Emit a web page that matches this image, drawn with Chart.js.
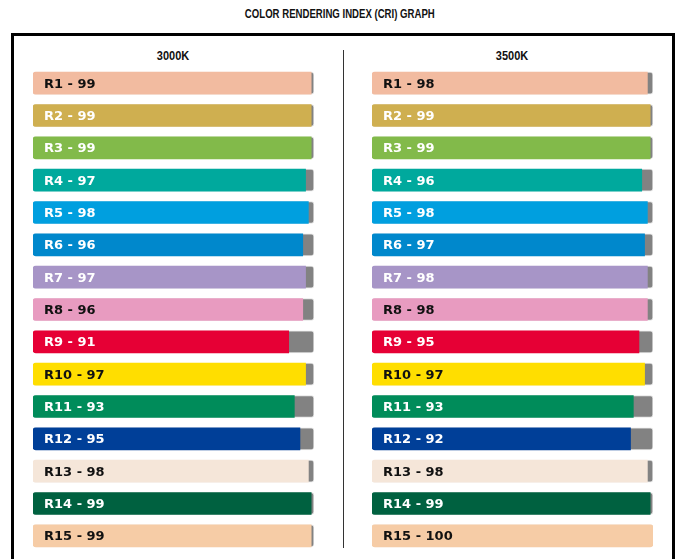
<!DOCTYPE html>
<html>
<head>
<meta charset="utf-8">
<script src="https://cdn.jsdelivr.net/npm/chart.js@4/dist/chart.umd.min.js"></script>
<style>
  html, body { margin: 0; padding: 0; background: #fff; }
  body { width: 679px; height: 559px; position: relative; overflow: hidden; }
  #title { position: absolute; left: 0; width: 679px; top: 7px; text-align: center;
    font-family: "Liberation Sans", Arial, sans-serif; font-weight: bold;
    font-size: 12px; color: #111; transform: scaleX(0.8); transform-origin: 341px 0; }
  #box { position: absolute; left: 11px; top: 33px; width: 658px; height: 560px;
    border: 3px solid #000; box-sizing: content-box; }
  #divider { position: absolute; left: 343px; top: 50px; width: 1px; height: 498px; background: #333; }
  .hdr { position: absolute; top: 49px; width: 120px; text-align: center;
    font-family: "Liberation Sans", Arial, sans-serif; font-weight: bold;
    font-size: 12.5px; color: #111; transform: scaleX(0.88); }
  canvas { position: absolute; }
</style>
</head>
<body>
<div id="title">COLOR RENDERING INDEX (CRI) GRAPH</div>
<div id="box"></div>
<div id="divider"></div>
<div class="hdr" style="left:113px">3000K</div>
<div class="hdr" style="left:452px">3500K</div>
<canvas id="c1" style="left:32px; top:67px; width:283px; height:485px;"></canvas>
<canvas id="c2" style="left:371px; top:67px; width:283px; height:485px;"></canvas>
<script>
const categories = ["R1","R2","R3","R4","R5","R6","R7","R8","R9","R10","R11","R12","R13","R14","R15"];
const values3000 = [99,99,99,97,98,96,97,96,91,97,93,95,98,99,99];
const values3500 = [98,99,99,96,98,97,98,98,95,97,93,92,98,99,100];
const scaleMax = 100;
const barColors = ["#F2BBA0","#CFAF50","#82BA4A","#00A99D","#009FDF","#0088CC","#A795C7","#E89BC0",
                   "#E60035","#FFDE00","#008C5A","#003F98","#F5E6D9","#006140","#F6CCA6"];
const labelColors = ["#111","#fff","#fff","#fff","#fff","#fff","#fff","#111",
                     "#fff","#111","#fff","#fff","#111","#fff","#111"];

const labelPlugin = {
  id: 'barLabels',
  afterDatasetsDraw(chart) {
    const ctx = chart.ctx;
    const meta = chart.getDatasetMeta(0);
    const vals = chart.data.datasets[0].data;
    ctx.save();
    ctx.font = 'bold 13px "DejaVu Sans", Verdana, sans-serif';
    ctx.textBaseline = 'middle';
    ctx.textAlign = 'left';
    meta.data.forEach((bar, i) => {
      ctx.fillStyle = labelColors[i];
      ctx.fillText(categories[i] + ' - ' + vals[i], bar.base + 11, bar.y + 1);
    });
    ctx.restore();
  }
};

function makeChart(id, values) {
  const c = document.getElementById(id);
  c.width = 283; c.height = 485;
  new Chart(c, {
    type: 'bar',
    data: {
      labels: categories,
      datasets: [
        {
          data: values,
          backgroundColor: barColors,
          borderWidth: 0,
          borderRadius: values.map(v => v >= scaleMax ? 3 : {topLeft: 3, bottomLeft: 3, topRight: 0, bottomRight: 0}),
          borderSkipped: false,
          barThickness: 22,
          grouped: false
        },
        {
          data: categories.map(() => scaleMax),
          backgroundColor: '#828282',
          borderColor: 'rgba(0,0,0,0.12)',
          borderWidth: 1,
          borderRadius: 3,
          borderSkipped: false,
          barThickness: 22,
          grouped: false
        }
      ]
    },
    options: {
      indexAxis: 'y',
      responsive: false,
      animation: false,
      layout: { padding: { left: 1, right: 1, top: 0, bottom: 0 } },
      plugins: { legend: { display: false }, tooltip: { enabled: false }, title: { display: false } },
      scales: {
        x: { display: false, min: 0, max: scaleMax },
        y: { display: false }
      }
    },
    plugins: [labelPlugin]
  });
}
makeChart('c1', values3000);
makeChart('c2', values3500);
</script>
</body>
</html>
